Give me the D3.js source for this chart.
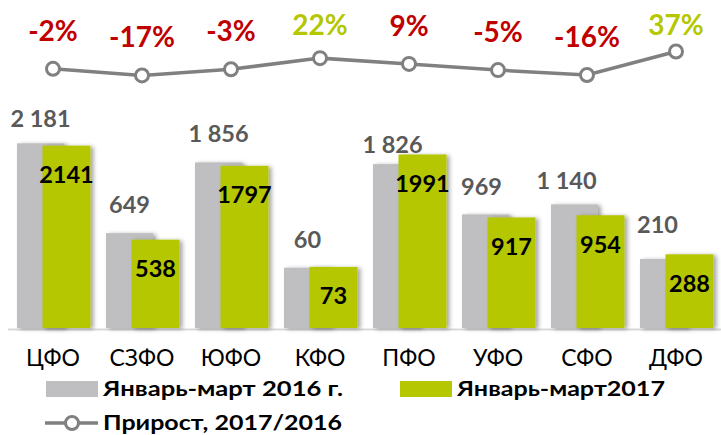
<!DOCTYPE html>
<html><head><meta charset="utf-8">
<script src="https://cdn.jsdelivr.net/npm/d3@7"></script>
<style>
html,body{margin:0;padding:0;background:#fff;}
svg{display:block;font-family:Lato,"Noto Sans",sans-serif;}
</style></head>
<body><svg id="c" width="721" height="435"></svg>
<script>
const categories = ["ЦФО","СЗФО","ЮФО","КФО","ПФО","УФО","СФО","ДФО"];
const values2016 = [2181, 649, 1856, 60, 1826, 969, 1140, 210];
const values2017 = [2141, 538, 1797, 73, 1991, 917, 954, 288];
const growth = [-2, -17, -3, 22, 9, -5, -16, 37];
const seriesNames = ["Январь-март 2016 г.", "Январь-март2017", "Прирост, 2017/2016"];
// growth above this threshold is highlighted in green, the rest in red
const highlightThreshold = 10;
// small manual nudges of the 2016 labels (as in the original layout) [dx, dy]
const label2016Nudge = [[0,3],[0,-1],[0,-1],[0,-1],[-4,8],[-4,0],[-8,4],[-6,-7]];

const W = 721, H = 435;
const svg = d3.select("#c");
const GRAY = "#BFBFC1", GREEN = "#B4C700", RED = "#C00000", LINE = "#808080";

const defs = svg.append("defs");
const f = defs.append("filter").attr("id","sh").attr("x","-20%").attr("y","-10%").attr("width","150%").attr("height","130%");
f.append("feDropShadow").attr("dx",3).attr("dy",1).attr("stdDeviation",2).attr("flood-color","#000").attr("flood-opacity",0.35);

const x = d3.scaleBand().domain(categories).range([8.5, 720.5]).padding(0);
const y = d3.scaleLinear().domain([-968.6, 2500]).range([328, 124.6]);
const yg = d3.scaleLinear().domain([-100, 100]).range([112.3, 23.5]);
const base = y.range()[0];

// axis line
svg.append("line").attr("x1",8).attr("x2",721).attr("y1",329.5).attr("y2",329.5)
  .attr("stroke","#D9D9D9").attr("stroke-width",2);

const fmt2016 = v => d3.format(",")(v).replace(/,/g, "\u00a0");

// 2016 bars
svg.append("g").selectAll("rect").data(values2016).join("rect")
  .attr("x",(d,i)=>x(categories[i])+8.5).attr("width",47)
  .attr("y",d=>y(d)).attr("height",d=>base-y(d))
  .attr("fill",GRAY).attr("filter","url(#sh)");
// 2017 bars
svg.append("g").selectAll("rect").data(values2017).join("rect")
  .attr("x",(d,i)=>x(categories[i])+34).attr("width",48)
  .attr("y",d=>y(d)).attr("height",d=>base-y(d))
  .attr("fill",GREEN).attr("filter","url(#sh)");

// 2016 labels
svg.append("g").selectAll("text").data(values2016).join("text")
  .attr("x",(d,i)=>x(categories[i])+8.5+23.5+label2016Nudge[i][0])
  .attr("y",(d,i)=>y(d)-19+label2016Nudge[i][1])
  .attr("text-anchor","middle").attr("font-size",23.5).attr("font-weight","bold")
  .attr("fill","#595959").text(fmt2016);
// 2017 labels
svg.append("g").selectAll("text").data(values2017).join("text")
  .attr("x",(d,i)=>x(categories[i])+34+24)
  .attr("y",d=>y(d)+37.5)
  .attr("text-anchor","middle").attr("font-size",23.5).attr("font-weight","bold")
  .attr("fill","#000").text(d=>d);

// category labels
svg.append("g").selectAll("text").data(categories).join("text")
  .attr("x",d=>x(d)+x.bandwidth()/2).attr("y",365.5)
  .attr("text-anchor","middle").attr("font-size",23).attr("fill","#000").text(d=>d);

// growth line
const cx = i => x(categories[i]) + x.bandwidth()/2;
svg.append("path").datum(growth)
  .attr("d", d3.line().x((d,i)=>cx(i)).y(d=>yg(d)))
  .attr("fill","none").attr("stroke",LINE).attr("stroke-width",3.5);
svg.append("g").selectAll("circle").data(growth).join("circle")
  .attr("cx",(d,i)=>cx(i)).attr("cy",d=>yg(d)).attr("r",6.5)
  .attr("fill","#fff").attr("stroke",LINE).attr("stroke-width",3);
svg.append("g").selectAll("text").data(growth).join("text")
  .attr("x",(d,i)=>cx(i)).attr("y",d=>Math.max(35, yg(d)-28))
  .attr("text-anchor","middle").attr("font-size",28).attr("font-weight","bold")
  .attr("fill",d=>d>highlightThreshold?GREEN:RED).text(d=>d+"%");

// legend
const lg = svg.append("g").attr("font-size",21).attr("font-weight","bold").attr("fill","#000");
lg.append("rect").attr("x",46).attr("y",381).attr("width",52).attr("height",16).attr("fill",GRAY);
lg.append("text").attr("x",103).attr("y",396).text(seriesNames[0])
  .attr("textLength",240).attr("lengthAdjust","spacingAndGlyphs");
lg.append("rect").attr("x",400).attr("y",381).attr("width",52).attr("height",16).attr("fill",GREEN);
lg.append("text").attr("x",457).attr("y",396).text(seriesNames[1])
  .attr("textLength",208).attr("lengthAdjust","spacingAndGlyphs");
lg.append("line").attr("x1",45).attr("x2",98).attr("y1",423).attr("y2",423)
  .attr("stroke",LINE).attr("stroke-width",3.5);
lg.append("circle").attr("cx",72).attr("cy",423).attr("r",6.5)
  .attr("fill","#fff").attr("stroke",LINE).attr("stroke-width",3);
lg.append("text").attr("x",103).attr("y",430).text(seriesNames[2])
  .attr("textLength",239).attr("lengthAdjust","spacingAndGlyphs");
</script></body></html>
